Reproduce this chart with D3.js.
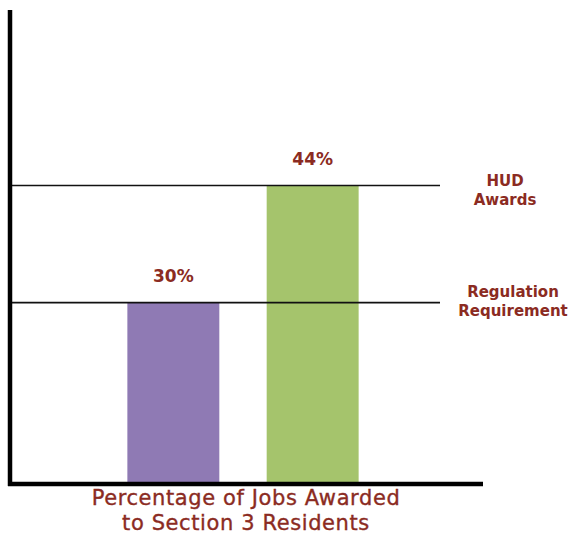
<!DOCTYPE html>
<html>
<head>
<meta charset="utf-8">
<script src="https://cdn.jsdelivr.net/npm/d3@7"></script>
<style>
  body { margin: 0; background: #fff; }
  text { font-family: "DejaVu Sans", sans-serif; fill: #8b2b22; }
</style>
</head>
<body>
<svg id="chart"></svg>
<script>
// ########## Data ##########
categories = ["Regulation Requirement", "HUD Awards"];
values = [30, 44];
valueLabels = ["30%", "44%"];
barColors = ["#8f7ab4", "#a5c46c"];
lineLabels = [["Regulation", "Requirement"], ["HUD", "Awards"]];
titleLines = ["Percentage of Jobs Awarded", "to Section 3 Residents"];

w = 569;
h = 542;

svg = d3.select("#chart")
    .attr("width", w)
    .attr("height", h);

// ########## Scales ##########
// the original chart does not start at zero
y = d3.scaleLinear().domain([8.3, 65]).range([484, 10]);
x = d3.scaleBand().domain(categories).range([80, 406])
    .paddingInner(0.34).paddingOuter(0.34);

axisLeft = 10;
axisRight = 483;
lineRight = 440;

// ########## Bars ##########
svg.selectAll("rect.bar")
    .data(categories)
    .enter().append("rect")
    .attr("class", "bar")
    .attr("x", function (d) { return x(d); })
    .attr("width", x.bandwidth())
    .attr("y", function (d, i) { return y(values[i]); })
    .attr("height", function (d, i) { return y(y.domain()[0]) - y(values[i]); })
    .attr("fill", function (d, i) { return barColors[i]; });

// ########## Reference lines ##########
svg.selectAll("line.ref")
    .data(values)
    .enter().append("line")
    .attr("class", "ref")
    .attr("x1", axisLeft)
    .attr("x2", lineRight)
    .attr("y1", function (d) { return y(d); })
    .attr("y2", function (d) { return y(d); })
    .attr("stroke", "#111")
    .attr("stroke-width", 1.6);

// ########## Axes ##########
svg.append("line")
    .attr("x1", axisLeft).attr("x2", axisLeft)
    .attr("y1", y.range()[1]).attr("y2", y.range()[0] + 2)
    .attr("stroke", "#000").attr("stroke-width", 4.5);

svg.append("line")
    .attr("x1", axisLeft - 2).attr("x2", axisRight)
    .attr("y1", y.range()[0]).attr("y2", y.range()[0])
    .attr("stroke", "#000").attr("stroke-width", 4.5);

// ########## Value labels ##########
svg.selectAll("text.val")
    .data(valueLabels)
    .enter().append("text")
    .attr("class", "val")
    .attr("x", function (d, i) { return x(categories[i]) + x.bandwidth() / 2; })
    .attr("y", function (d, i) { return y(values[i]) - 21; })
    .attr("text-anchor", "middle")
    .style("font-size", "17px")
    .style("font-weight", "bold")
    .text(function (d) { return d; });

// ########## Line labels ##########
lineLabelOffsets = [-6, 0];
lbl = svg.selectAll("text.lbl")
    .data(lineLabels)
    .enter().append("text")
    .attr("class", "lbl")
    .attr("x", function (d, i) { return i == 0 ? 513 : 505; })
    .attr("y", function (d, i) { return y(values[i]) + lineLabelOffsets[i]; })
    .attr("text-anchor", "middle")
    .style("font-size", "15px")
    .style("font-weight", "bold");

lbl.selectAll("tspan")
    .data(function (d) { return d; })
    .enter().append("tspan")
    .attr("x", function () { return d3.select(this.parentNode).attr("x"); })
    .attr("dy", function (d, i) { return i == 0 ? 0 : 19; })
    .text(function (d) { return d; });

// ########## Title ##########
svg.append("text")
    .attr("x", 246)
    .attr("y", 505)
    .attr("text-anchor", "middle")
    .style("font-size", "21px")
    .style("letter-spacing", "0.6px")
    .style("stroke", "#8b2b22")
    .style("stroke-width", 0.35)
    .selectAll("tspan")
    .data(titleLines)
    .enter().append("tspan")
    .attr("x", 246)
    .attr("dy", function (d, i) { return i == 0 ? 0 : 25; })
    .text(function (d) { return d; });
</script>
</body>
</html>
